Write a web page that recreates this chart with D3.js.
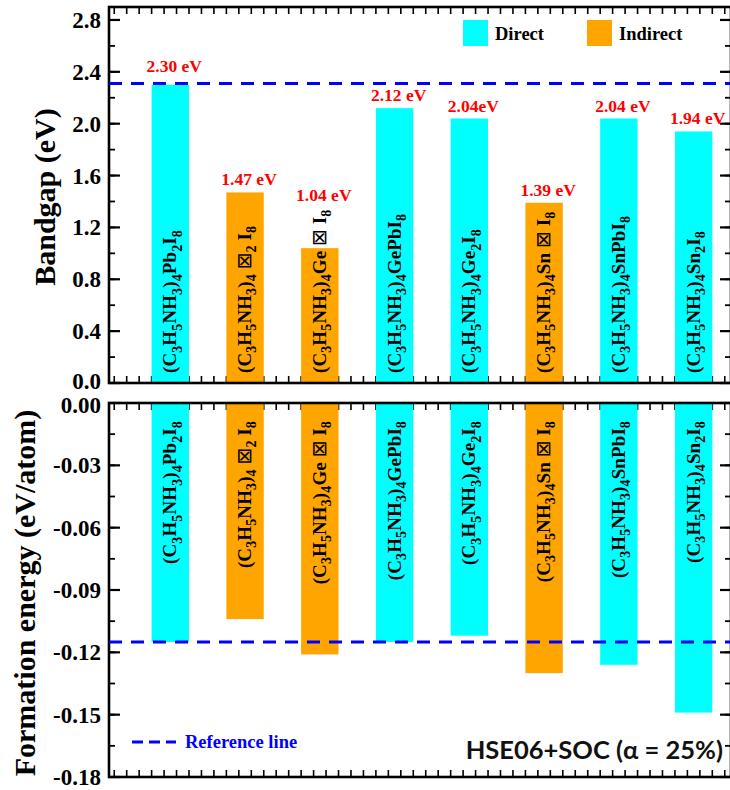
<!DOCTYPE html>
<html><head><meta charset="utf-8">
<script src="https://cdn.jsdelivr.net/npm/d3@7"></script>
<style>body{margin:0;background:#fff}svg{display:block}</style>
</head><body>
<svg id="c" width="730" height="790"></svg>
<script>
// ---------- data ----------
const compounds = ["(C_3H_5NH_3)_4Pb_2I_8", "(C_3H_5NH_3)_4 \u22A0_2 I_8", "(C_3H_5NH_3)_4Ge \u22A0 I_8", "(C_3H_5NH_3)_4GePbI_8",
                   "(C_3H_5NH_3)_4Ge_2I_8", "(C_3H_5NH_3)_4Sn \u22A0 I_8", "(C_3H_5NH_3)_4SnPbI_8", "(C_3H_5NH_3)_4Sn_2I_8"];
const gapType = ["Direct", "Indirect", "Indirect", "Direct", "Direct", "Indirect", "Direct", "Direct"];
const bandgap = [2.30, 1.47, 1.04, 2.12, 2.04, 1.39, 2.04, 1.94];
const bandgapLabels = ["2.30 eV", "1.47 eV", "1.04 eV", "2.12 eV", "2.04eV", "1.39 eV", "2.04 eV", "1.94 eV"];
const formation = [-0.115, -0.104, -0.121, -0.115, -0.112, -0.130, -0.126, -0.149];
const bandgapRef = 2.31;
const formationRef = -0.115;
const bandgapTicks = [0.0, 0.4, 0.8, 1.2, 1.6, 2.0, 2.4, 2.8];
const formationTicks = [0.00, -0.03, -0.06, -0.09, -0.12, -0.15, -0.18];
const legendTypes = ["Direct", "Indirect"];
const refLegend = "Reference line";
const methodLabel = "HSE06+SOC (\u03B1 = 25%)";
const yTitles = ["Bandgap (eV)", "Formation energy (eV/atom)"];

// ---------- layout ----------
const svg = d3.select("#c");
const L = 109, R = 731;
const top1 = 7, bot1 = 383, top2 = 403, bot2 = 777;
const color = d3.scaleOrdinal().domain(legendTypes).range(["#00FFFF", "#FFA500"]);
const serif = "'Liberation Serif','Times New Roman',serif";

const x = d3.scaleLinear().domain([0.18, 8.5]).range([L, R]);
const barW = x(1.5) - x(1);
const y1 = d3.scaleLinear().domain([0, 2.9]).range([bot1, top1]);
const y2 = d3.scaleLinear().domain([-0.18, 0]).range([bot2, top2]);

const idx = compounds.map((d, i) => i + 1);

// x minor ticks at odd twelfths
const xTicks = d3.range(1, 102, 2).map(k => k / 12).filter(v => v > 0.18 && v < 8.5);

function frameTicks(g, yScale, yTop, yBot, majors, minorStep) {
  [yTop, yBot].forEach((yy, j) => {
    g.selectAll(null).data(xTicks).join("line")
      .attr("x1", d => x(d)).attr("x2", d => x(d))
      .attr("y1", yy).attr("y2", j === 0 ? yy + 7 : yy - 7)
      .attr("stroke", "#000").attr("stroke-width", 1.6);
  });
  const d0 = yScale.domain();
  const minors = d3.range(Math.round((d0[1] - d0[0]) / minorStep) + 1).map(k => d0[0] + k * minorStep);
  [L, R].forEach((xx, j) => {
    const s = j === 0 ? 1 : -1;
    g.selectAll(null).data(minors).join("line")
      .attr("x1", xx).attr("x2", xx + s * 6)
      .attr("y1", d => yScale(d)).attr("y2", d => yScale(d))
      .attr("stroke", "#000").attr("stroke-width", 1.8);
    g.selectAll(null).data(majors).join("line")
      .attr("x1", xx).attr("x2", xx + s * 11)
      .attr("y1", d => yScale(d)).attr("y2", d => yScale(d))
      .attr("stroke", "#000").attr("stroke-width", 2.2);
  });
}

function formula(textSel, s, fs) {
  let i = 0, prevSub = false;
  while (i < s.length) {
    let sub = false, run = "";
    if (s[i] === "_") { sub = true; run = s[i + 1]; i += 2; }
    else { while (i < s.length && s[i] !== "_") { run += s[i]; i++; } }
    const parts = sub ? [run] : run.split(/(\u22A0)/).filter(p => p.length);
    parts.forEach((p, k) => {
      const t = textSel.append("tspan").text(p);
      if (sub) { t.attr("font-size", fs * 0.74).attr("dy", prevSub ? 0 : fs * 0.28); }
      else {
        t.attr("font-size", fs);
        if (prevSub && k === 0) t.attr("dy", -fs * 0.28);
        if (p === "\u22A0") t.attr("font-weight", "normal").attr("font-family", "'DejaVu Sans',sans-serif").attr("font-size", fs * 1.05);
      }
    });
    prevSub = sub;
  }
}

const gTicks = svg.append("g");
frameTicks(gTicks, y1, top1, bot1, bandgapTicks, 0.2);
frameTicks(gTicks, y2, top2, bot2, formationTicks, 0.015);

// ---------- bars ----------
svg.append("g").selectAll("rect").data(idx).join("rect")
  .attr("x", d => x(d) - barW / 2).attr("width", barW)
  .attr("y", d => y1(bandgap[d - 1])).attr("height", d => y1(0) - y1(bandgap[d - 1]))
  .attr("fill", d => color(gapType[d - 1]));
svg.append("g").selectAll("rect").data(idx).join("rect")
  .attr("x", d => x(d) - barW / 2).attr("width", barW)
  .attr("y", y2(0)).attr("height", d => y2(formation[d - 1]) - y2(0))
  .attr("fill", d => color(gapType[d - 1]));

// frames
[[top1, bot1], [top2, bot2]].forEach(([a, b]) => {
  svg.append("rect").attr("x", L).attr("y", a).attr("width", R - L).attr("height", b - a)
    .attr("fill", "none").attr("stroke", "#000").attr("stroke-width", 2.6);
});

// rotated compound labels
const FS = 19;
const topTextTop = [];
idx.forEach(d => {
  const cx = x(d) + 6;
  const t1 = svg.append("text").attr("transform", `translate(${cx},${bot1 - 10}) rotate(-90)`)
    .attr("font-family", serif).attr("font-weight", "bold").attr("text-anchor", "start")
    .attr("letter-spacing", 0.1).attr("fill", "#000");
  formula(t1, compounds[d - 1], FS);
  topTextTop.push(bot1 - 10 - t1.node().getComputedTextLength());
  const t2 = svg.append("text").attr("transform", `translate(${cx},${top2 + 18}) rotate(-90)`)
    .attr("font-family", serif).attr("font-weight", "bold").attr("text-anchor", "end")
    .attr("letter-spacing", 0.1).attr("fill", "#000");
  formula(t2, compounds[d - 1], FS);
});

// reference lines
svg.append("line").attr("x1", L).attr("x2", R).attr("y1", y1(bandgapRef)).attr("y2", y1(bandgapRef))
  .attr("stroke", "#0000FF").attr("stroke-width", 3).attr("stroke-dasharray", "13,9");
svg.append("line").attr("x1", L).attr("x2", R).attr("y1", y2(formationRef)).attr("y2", y2(formationRef))
  .attr("stroke", "#0000FF").attr("stroke-width", 3).attr("stroke-dasharray", "13,9");

// value labels
idx.forEach(d => {
  const i = d - 1;
  let t = Math.min(y1(bandgap[i]), topTextTop[i] - 2);
  const ry = y1(bandgapRef);
  if (t - ry < 12 && t - ry > -4) t = ry - 4;
  svg.append("text").attr("x", x(d) + 4).attr("y", t - 7).attr("text-anchor", "middle")
    .attr("font-family", serif).attr("font-weight", "bold").attr("font-size", 17.5).attr("fill", "#FF0000")
    .text(bandgapLabels[i]);
});

// tick labels
const f1 = d3.format(".1f"), f2 = d3.format(".2f");
svg.append("g").selectAll("text").data(bandgapTicks).join("text")
  .attr("x", 101).attr("y", d => y1(d) - (d === 0 ? 2 : 0)).attr("dy", "0.35em").attr("text-anchor", "end")
  .attr("font-family", serif).attr("font-weight", "bold").attr("font-size", 23)
  .text(d => f1(d));
svg.append("g").selectAll("text").data(formationTicks).join("text")
  .attr("x", 101).attr("y", d => y2(d) + (d === 0 ? 2 : 0)).attr("dy", "0.35em").attr("text-anchor", "end")
  .attr("font-family", serif).attr("font-weight", "bold").attr("font-size", 23)
  .text(d => f2(d).replace("\u2212", "-"));

// axis titles
svg.append("text").attr("transform", `translate(55,${(top1 + bot1) / 2 + 2}) rotate(-90)`)
  .attr("text-anchor", "middle").attr("font-family", serif).attr("font-weight", "bold").attr("font-size", 30)
  .text(yTitles[0]);
svg.append("text").attr("transform", `translate(35,${(top2 + bot2) / 2 + 3}) rotate(-90)`)
  .attr("text-anchor", "middle").attr("font-family", serif).attr("font-weight", "bold").attr("font-size", 30)
  .text(yTitles[1]);

// legend
const legX = [463, 587];
legendTypes.forEach((k, i) => {
  svg.append("rect").attr("x", legX[i]).attr("y", 20).attr("width", 25).attr("height", 26).attr("fill", color(k));
  svg.append("text").attr("x", legX[i] + 32).attr("y", 40).attr("font-family", serif).attr("font-weight", "bold")
    .attr("font-size", 18.5).text(k);
});

// reference line legend
svg.append("line").attr("x1", 132).attr("x2", 176).attr("y1", 742).attr("y2", 742)
  .attr("stroke", "#0000FF").attr("stroke-width", 3).attr("stroke-dasharray", "11,6");
svg.append("text").attr("x", 185).attr("y", 748).attr("font-family", serif).attr("font-weight", "bold")
  .attr("font-size", 18.5).attr("fill", "#0000FF").text(refLegend);

// method label
svg.append("text").attr("x", 723).attr("y", 759).attr("text-anchor", "end")
  .attr("font-family", "Lato, 'Open Sans', sans-serif").attr("font-weight", "bold").attr("font-size", 25.5)
  .attr("fill", "#111").text(methodLabel);
</script>
</body></html>
